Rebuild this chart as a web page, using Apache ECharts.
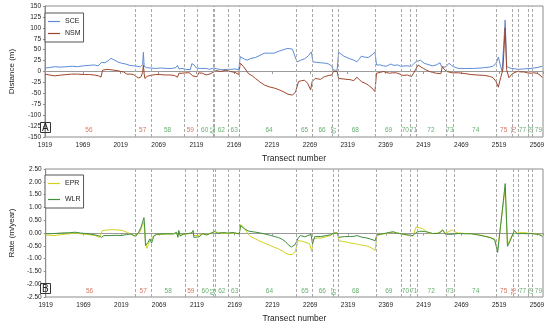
<!DOCTYPE html>
<html><head><meta charset="utf-8">
<script src="https://cdn.jsdelivr.net/npm/echarts/dist/echarts.min.js"></script>
<style>html,body{margin:0;padding:0;background:#fff}#c{width:550px;height:326px}</style>
</head><body><div id="c"></div>
<script>
// ---- data ----
const sceData = [[1919,8],[1925,9],[1932,11],[1940,10],[1948,11],[1955,12],[1962,11],[1970,13],[1977,14],[1984,15],[1989,13],[1991,17],[1994,21],[1998,20],[2002,24],[2006,30],[2010,27],[2015,22],[2020,19],[2026,17],[2031,14],[2036,13],[2041,12],[2045,11],[2048,16],[2049,44],[2050,12],[2053,9],[2058,8],[2065,7],[2072,8],[2080,7],[2087,7],[2092,9],[2094,14],[2096,6],[2100,7],[2105,5],[2111,4],[2113,18],[2116,15],[2119,8],[2125,7],[2132,7],[2136,5],[2142,8],[2146,6],[2153,4],[2160,5],[2166,5],[2170,6],[2175,4],[2177,34],[2179,38],[2183,28],[2186,26],[2191,30],[2197,32],[2203,37],[2209,42],[2216,42],[2222,42],[2227,46],[2231,48],[2236,51],[2240,53],[2246,51],[2249,36],[2252,22],[2257,26],[2262,29],[2267,36],[2271,45],[2273,22],[2278,21],[2283,20],[2290,19],[2294,17],[2298,12],[2300,3],[2305,3],[2307,44],[2314,35],[2318,32],[2322,29],[2327,26],[2331,22],[2334,28],[2337,35],[2341,33],[2346,32],[2351,38],[2355,45],[2357,15],[2362,15],[2366,13],[2370,12],[2376,17],[2380,14],[2385,15],[2389,12],[2396,13],[2403,12],[2406,17],[2409,22],[2415,26],[2420,19],[2425,16],[2431,13],[2436,15],[2441,20],[2443,11],[2448,10],[2453,19],[2456,14],[2459,11],[2465,7],[2475,7],[2485,7],[2495,8],[2500,9],[2506,10],[2511,12],[2515,19],[2518,33],[2521,12],[2523,0],[2527,118],[2529,12],[2532,9],[2535,7],[2540,6],[2545,5],[2552,6],[2561,7],[2569,9],[2576,12]];
const nsmData = [[1919,-6],[1925,-8],[1932,-10],[1941,-8],[1948,-7],[1954,-6],[1962,-6],[1971,-7],[1978,-7],[1984,-8],[1990,-10],[1993,-13],[1995,3],[2001,5],[2006,4],[2010,3],[2015,2],[2019,0],[2023,-1],[2027,-6],[2032,-6],[2036,-7],[2040,-12],[2043,-15],[2046,-12],[2048,-2],[2049,15],[2050,-5],[2051,-16],[2054,-11],[2058,-9],[2065,-7],[2071,-7],[2078,-8],[2084,-8],[2090,-9],[2094,-13],[2096,-4],[2100,-4],[2105,-3],[2110,-3],[2112,-4],[2114,-10],[2120,-12],[2122,-3],[2127,-4],[2132,-8],[2138,-5],[2145,2],[2151,0],[2158,3],[2164,0],[2170,-2],[2175,-7],[2177,19],[2181,12],[2188,-5],[2193,-10],[2197,-16],[2203,-24],[2209,-31],[2215,-35],[2222,-38],[2227,-41],[2231,-44],[2236,-48],[2240,-52],[2246,-54],[2250,-47],[2254,-23],[2258,-21],[2262,-20],[2266,-27],[2270,-42],[2272,-23],[2276,-16],[2280,-17],[2283,-18],[2287,-13],[2290,-11],[2294,-9],[2298,-8],[2300,0],[2305,0],[2307,-16],[2313,-17],[2318,-18],[2323,-19],[2327,-21],[2331,-13],[2334,-18],[2337,-23],[2342,-27],[2346,-31],[2351,-38],[2355,-46],[2357,-4],[2362,-2],[2366,0],[2370,-2],[2374,-4],[2378,-3],[2383,-3],[2388,-6],[2392,-9],[2398,-8],[2403,-12],[2406,-4],[2408,0],[2412,15],[2416,10],[2419,7],[2423,3],[2427,0],[2431,-2],[2436,-4],[2442,-5],[2444,11],[2447,4],[2450,0],[2457,-3],[2465,-3],[2475,-5],[2482,-7],[2490,-8],[2500,-9],[2506,-11],[2511,-14],[2515,-23],[2518,-36],[2521,-14],[2524,4],[2527,100],[2529,4],[2532,-14],[2536,-6],[2540,-2],[2543,0],[2548,-1],[2552,-1],[2556,-3],[2561,-4],[2565,-3],[2569,-4],[2573,-8],[2576,-14]];
const eprData = [[1919,-0.08],[1930,-0.1],[1940,-0.06],[1950,-0.03],[1958,0.0],[1965,-0.03],[1975,-0.06],[1984,-0.1],[1990,-0.17],[1994,0.09],[2000,0.12],[2008,0.13],[2015,0.12],[2020,0.1],[2027,0.02],[2032,-0.05],[2036,-0.1],[2040,-0.05],[2044,0.05],[2047,0.3],[2049,0.42],[2050,0.1],[2051,-0.37],[2053,-0.6],[2056,-0.35],[2058,-0.3],[2062,-0.1],[2066,-0.06],[2075,-0.05],[2085,-0.04],[2092,0.0],[2094,-0.12],[2095,0.08],[2097,-0.1],[2102,-0.05],[2110,-0.02],[2114,0.06],[2115,-0.1],[2120,-0.1],[2127,-0.04],[2132,-0.06],[2140,0.02],[2143,0.05],[2150,0.0],[2160,-0.02],[2167,0.0],[2175,-0.02],[2177,0.33],[2182,0.2],[2186,0.0],[2190,-0.14],[2196,-0.22],[2201,-0.3],[2207,-0.38],[2214,-0.46],[2220,-0.54],[2227,-0.62],[2232,-0.7],[2236,-0.78],[2241,-0.84],[2245,-0.84],[2249,-0.74],[2253,-0.3],[2258,-0.32],[2262,-0.36],[2268,-0.42],[2271,-0.72],[2273,-0.23],[2278,-0.2],[2283,-0.2],[2290,-0.15],[2296,-0.1],[2300,0.0],[2305,0.0],[2307,-0.3],[2312,-0.33],[2318,-0.36],[2323,-0.4],[2329,-0.42],[2333,-0.45],[2337,-0.47],[2343,-0.5],[2348,-0.55],[2352,-0.62],[2355,-0.68],[2357,-0.1],[2362,-0.05],[2370,-0.02],[2375,0.02],[2380,0.03],[2385,0.0],[2392,-0.05],[2398,-0.08],[2405,-0.12],[2409,0.23],[2414,0.2],[2418,0.16],[2422,0.08],[2425,0.0],[2431,-0.02],[2438,0.0],[2444,0.1],[2448,0.0],[2452,0.05],[2457,0.12],[2460,0.05],[2465,0.0],[2475,-0.02],[2482,-0.03],[2490,-0.06],[2500,-0.12],[2507,-0.17],[2513,-0.24],[2517,-0.65],[2527,1.75],[2530,-0.45],[2535,-0.15],[2539,0.08],[2543,0.0],[2550,0.02],[2556,0.0],[2561,-0.02],[2566,-0.03],[2571,-0.05],[2576,-0.1]];
const wlrData = [[1919,-0.03],[1930,-0.02],[1940,0.0],[1950,0.01],[1958,0.03],[1965,0.0],[1975,-0.03],[1984,-0.07],[1990,-0.12],[1993,-0.17],[1996,-0.1],[2005,-0.1],[2012,-0.09],[2019,-0.1],[2026,-0.06],[2032,-0.04],[2038,-0.14],[2042,0.03],[2045,0.22],[2049,0.6],[2050,0.2],[2051,-0.49],[2054,-0.38],[2057,-0.23],[2059,-0.4],[2062,-0.12],[2066,-0.05],[2071,-0.04],[2080,-0.03],[2088,-0.04],[2092,0.03],[2094,-0.17],[2095,0.1],[2097,-0.12],[2101,-0.04],[2106,-0.03],[2112,0.0],[2114,0.1],[2115,-0.17],[2122,-0.15],[2127,-0.02],[2132,-0.08],[2138,0.0],[2143,0.07],[2146,-0.02],[2153,0.02],[2160,0.0],[2167,0.02],[2175,-0.04],[2177,0.29],[2182,0.16],[2188,0.07],[2197,0.03],[2203,0.0],[2209,-0.04],[2216,-0.09],[2222,-0.14],[2227,-0.18],[2231,-0.23],[2236,-0.33],[2240,-0.46],[2244,-0.55],[2249,-0.45],[2253,-0.2],[2256,-0.1],[2262,-0.15],[2266,-0.1],[2270,-0.05],[2272,-0.42],[2275,-0.14],[2283,-0.14],[2290,-0.1],[2296,-0.07],[2300,0.0],[2305,0.0],[2307,-0.17],[2314,-0.14],[2322,-0.14],[2327,-0.13],[2331,-0.1],[2337,-0.16],[2343,-0.19],[2348,-0.23],[2355,-0.3],[2357,-0.08],[2362,-0.05],[2370,0.0],[2375,0.03],[2379,0.05],[2383,0.0],[2387,-0.02],[2392,-0.05],[2396,-0.07],[2405,-0.1],[2409,0.02],[2414,0.07],[2420,0.06],[2425,0.03],[2431,-0.02],[2438,-0.02],[2442,0.04],[2444,0.13],[2448,-0.06],[2452,-0.05],[2457,-0.05],[2465,-0.02],[2475,-0.03],[2482,-0.03],[2490,-0.07],[2500,-0.13],[2507,-0.18],[2513,-0.26],[2517,-0.76],[2527,1.93],[2530,-0.52],[2533,-0.35],[2535,-0.2],[2539,0.1],[2543,-0.03],[2550,-0.02],[2556,-0.03],[2561,-0.02],[2566,-0.04],[2571,-0.05],[2576,-0.13]];
const segBounds = [2038,2059,2103,2120,2141,2143,2161,2175,2251,2272,2299,2306,2356,2390,2402,2410,2449,2459,2515,2537,2544,2558,2563];
const segNames = ['56','57','58','59','60','61','62','63','64','65','66','67','68','69','70','71','72','73','74','75','76','77','78','79'];
const segPos = [1977,2048,2081,2111,2130,2141,2152,2169,2215,2262,2285,2301,2329,2373,2395,2406,2429,2454,2488,2525,2539,2550,2561,2571];
const segTrend = ['E','E','A','E','A','A','A','A','A','A','A','A','A','A','A','A','A','A','A','E','E','A','A','A'];
const segVertical = ['61','67','76','78'];
const xTicksFrom = 1919, xTicksTo = 2577, xStep = 50;
const distTicks = {min:-150, max:150, step:25};
const rateTicks = {min:-2.5, max:2.5, step:0.5};

// ---- chart ----
const FONT = '"Liberation Sans", Arial, sans-serif';
const TXT = '#222';
const RED = '#c8553d', GREEN = '#3f9b4a';
const C_SCE = '#5d8bd8', C_NSM = '#a0452a', C_EPR = '#d2d21e', C_WLR = '#3e8f3e';

function xLabelAxis(g){
  return {type:'value', gridIndex:g, min:xTicksFrom, max:xTicksTo, interval:xStep, position:'bottom',
    name:'Transect number', nameLocation:'middle', nameGap:17,
    nameTextStyle:{fontFamily:FONT,fontSize:8.5,color:TXT},
    axisLine:{show:false,onZero:false}, axisTick:{show:false}, splitLine:{show:false},
    axisLabel:{fontFamily:FONT,fontSize:6.5,color:TXT,margin:5,showMaxLabel:false,
      formatter:v=>((v-xTicksFrom)%xStep===0?String(v):'')}};
}
function xZeroAxis(g){
  return {type:'value', gridIndex:g, min:xTicksFrom, max:xTicksTo, interval:xStep, position:'bottom',
    axisLine:{show:true,onZero:true,lineStyle:{color:'#9a9a9a',width:1}},
    axisTick:{show:true,length:2.5,lineStyle:{color:'#9a9a9a'}},
    axisLabel:{show:false}, splitLine:{show:false}};
}
function yAxis(g, t, name, dec){
  return {type:'value', gridIndex:g, min:t.min, max:t.max, interval:t.step,
    name:name, nameLocation:'middle', nameGap:29, nameRotate:90,
    nameTextStyle:{fontFamily:FONT,fontSize:8,color:TXT},
    axisLine:{show:true,onZero:false,lineStyle:{color:'#8c8c8c'}},
    axisTick:{show:true,length:2,lineStyle:{color:'#8c8c8c'}}, splitLine:{show:false},
    axisLabel:{fontFamily:FONT,fontSize:6.5,color:TXT,margin:4,formatter:v=>v.toFixed(dec)}};
}
function lineSeries(name, data, color, xi, yi, withBounds){
  const s = {type:'line', name, data, xAxisIndex:xi, yAxisIndex:yi, symbol:'none', showSymbol:false,
    itemStyle:{color}, lineStyle:{color,width:1}, animation:false};
  if (withBounds){
    s.markLine = {silent:true, symbol:['none','none'], label:{show:false}, animation:false,
      lineStyle:{type:[3,2], color:'#a8a8a8', width:1},
      data: segBounds.map(t=>({xAxis:t}))};
  }
  return s;
}
function segSeries(xi, yi, yVal){
  return {type:'scatter', xAxisIndex:xi, yAxisIndex:yi, symbolSize:1, silent:true, animation:false,
    itemStyle:{color:'rgba(0,0,0,0)'},
    data: segNames.map((n,i)=>({value:[segPos[i], yVal], name:n,
      label:{show:true, position:'inside', formatter:n, fontFamily:FONT, fontSize:6.5,
        rotate: segVertical.includes(n)?90:0, color: segTrend[i]==='E'?RED:GREEN}}))};
}
function legend(items, top, gap){
  return {data:items, left:45, top:top, orient:'vertical', icon:'rect', itemWidth:12, itemHeight:1.2, itemGap:gap,
    padding:[5,3,5,3], borderColor:'#555', borderWidth:1, backgroundColor:'#fff',
    textStyle:{fontFamily:FONT,fontSize:7,color:TXT}, selectedMode:false};
}

const chart = echarts.init(document.getElementById('c'), null, {renderer:'canvas'});
chart.setOption({
  animation:false,
  backgroundColor:'#fff',
  grid:[
    {left:36, top:6, width:507, height:131, show:true, borderColor:'#8c8c8c', borderWidth:1},
    {left:36, top:169, width:507, height:128, show:true, borderColor:'#8c8c8c', borderWidth:1}
  ],
  title:[
    {text:'A', left:40, top:122, padding:[1,2,0,2], borderColor:'#333', borderWidth:1,
     textStyle:{fontFamily:FONT,fontSize:10,fontWeight:'normal',color:TXT,lineHeight:10}},
    {text:'B', left:40, top:283, padding:[1,2,0,2], borderColor:'#333', borderWidth:1,
     textStyle:{fontFamily:FONT,fontSize:10,fontWeight:'normal',color:TXT,lineHeight:10}}
  ],
  legend:[ legend(['SCE','NSM'], 13, 5), legend(['EPR','WLR'], 175, 9) ],
  xAxis:[ xLabelAxis(0), xZeroAxis(0), xLabelAxis(1), xZeroAxis(1) ],
  yAxis:[ yAxis(0, distTicks, 'Distance (m)', 0), yAxis(1, rateTicks, 'Rate (m/year)', 2) ],
  series:[
    lineSeries('SCE', sceData, C_SCE, 0, 0, true),
    lineSeries('NSM', nsmData, C_NSM, 0, 0, false),
    segSeries(0, 0, -134),
    lineSeries('EPR', eprData, C_EPR, 2, 1, true),
    lineSeries('WLR', wlrData, C_WLR, 2, 1, false),
    segSeries(2, 1, -2.29)
  ]
});
</script></body></html>
